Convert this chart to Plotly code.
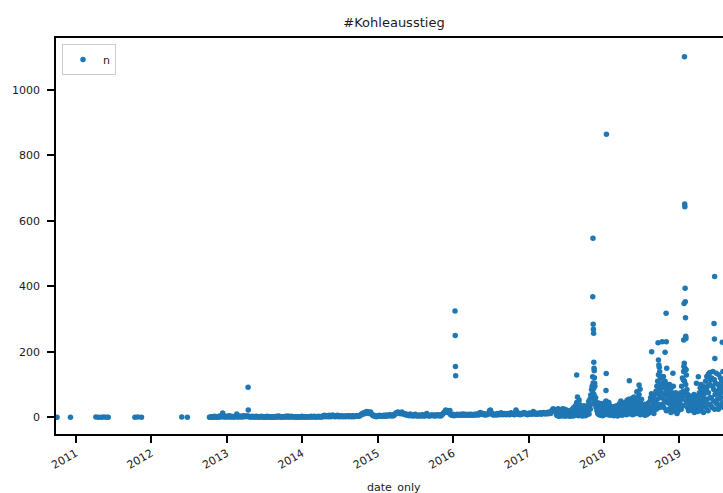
import pandas as pd
import plotly.graph_objects as go

# Sparse early days (before regular activity on the hashtag)
early_dates = ["2010-10-02", "2010-12-06", "2011-04-08", "2011-04-21", "2011-05-05",
               "2011-05-17", "2011-05-30", "2011-06-07", "2011-10-14", "2011-10-28",
               "2011-11-15", "2012-05-28", "2012-06-24"]
early_counts = [0, 0, 1, 0, 0, 1, 0, 0, 0, 1, 0, 1, 0]

# Daily tweet counts sampled every 4 days, from 2012-10-09
mid_start = "2012-10-09"
mid_counts = [
    0, 1, 0, 2, 1, 0, 3, 1, 2, 0, 1, 2, 4, 1, 2,
    3, 13, 2, 1, 4, 2, 1, 3, 2, 5, 1, 2, 3, 1, 2,
    2, 1, 3, 10, 2, 1, 4, 2, 3, 1, 2, 5, 3, 2, 4,
    3, 4, 2, 3, 1, 2, 1, 3, 2, 1, 2, 1, 3, 2, 1,
    1, 2, 1, 3, 1, 2, 0, 1, 2, 1, 3, 1, 2, 1, 0,
    1, 2, 1, 0, 2, 1, 3, 1, 2, 4, 1, 2, 1, 2, 1,
    2, 1, 3, 2, 1, 4, 1, 2, 1, 3, 2, 1, 2, 1, 2,
    1, 2, 1, 0, 1, 2, 1, 3, 1, 2, 1, 1, 2, 1, 2,
    1, 2, 1, 3, 2, 1, 2, 3, 1, 2, 1, 2, 3, 2, 1,
    2, 3, 1, 4, 6, 3, 2, 5, 3, 2, 6, 4, 2, 3, 7,
    3, 5, 2, 4, 3, 6, 2, 3, 5, 2, 4, 3, 2, 4, 3,
    2, 4, 3, 5, 2, 3, 4, 2, 5, 3, 2, 4, 3, 5, 4,
    3, 5, 4, 6, 9, 12, 10, 14, 11, 15, 18, 13, 17, 12, 14,
    16, 10, 8, 5, 6, 4, 3, 2, 4, 5, 3, 6, 4, 5, 3,
    4, 6, 5, 3, 7, 5, 4, 6, 8, 5, 7, 4, 6, 5, 9,
    10, 14, 12, 16, 13, 15, 11, 14, 16, 12, 9, 11, 8, 10, 7,
    6, 8, 5, 10, 7, 5, 6, 4, 7, 9, 5, 6, 4, 5, 7,
    5, 4, 6, 8, 5, 4, 7, 5, 12, 6, 5, 4, 6, 5, 7,
    6, 5, 7, 4, 6, 5, 8, 6, 5, 7, 4, 6, 9, 12, 15,
    18, 22, 16, 20, 14, 19, 21, 8, 7, 6, 9, 5, 7, 8, 6,
    9, 7, 8, 6, 9, 7, 8, 10, 6, 7, 9, 8, 6, 7, 9,
    8, 6, 9, 7, 8, 6, 9, 7, 10, 8, 9, 7, 13, 15, 11,
    9, 12, 8, 10, 7, 9, 8, 10, 12, 20, 22, 16, 9, 8, 7,
    9, 8, 10, 7, 12, 9, 8, 11, 14, 10, 8, 9, 12, 10, 8,
    10, 12, 9, 8, 11, 14, 10, 9, 12, 8, 10, 22, 18, 11, 9,
    10, 8, 12, 9, 11, 14, 15, 12, 10, 9, 8, 11, 13, 10, 12,
    9, 12, 18, 11, 10, 13, 9, 12, 10, 11, 14, 12, 9, 13, 15,
    12, 14, 10, 15, 13, 11, 16, 14, 12, 18, 22, 26, 20, 24, 18,
]

# Daily tweet counts sampled every 2 days, from 2017-05-16
late_start = "2017-05-16"
late_counts = [
    8, 22, 5, 14, 26, 10, 3, 18, 24, 7, 12, 20, 4, 16, 25,
    10, 26, 6, 15, 21, 3, 12, 24, 8, 18, 5, 14, 20, 7, 11,
    4, 15, 9, 20, 3, 12, 18, 6, 25, 10, 14, 4, 30, 8, 16,
    12, 35, 6, 22, 45, 10, 62, 18, 28, 5, 53, 15, 38, 8, 24,
    6, 20, 32, 4, 15, 25, 9, 35, 12, 18, 5, 28, 14, 22, 8,
    15, 35, 20, 48, 10, 32, 55, 25, 68, 40, 85, 60, 95, 75, 105,
    88, 70, 52, 95, 40, 60, 30, 45, 20, 38, 12, 28, 44, 8, 22,
    15, 35, 6, 25, 42, 10, 30, 5, 20, 38, 12, 26, 8, 45, 18,
    50, 28, 40, 12, 32, 8, 25, 45, 15, 35, 6, 22, 30, 10, 18,
    8, 25, 14, 32, 5, 20, 10, 28, 6, 18, 35, 12, 22, 4, 15,
    10, 30, 18, 42, 8, 25, 50, 15, 35, 6, 22, 40, 12, 28, 16,
    20, 45, 12, 35, 8, 28, 52, 16, 38, 10, 55, 25, 42, 14, 30,
    12, 40, 25, 58, 8, 32, 48, 18, 62, 10, 35, 22, 50, 15, 28,
    45, 20, 60, 12, 38, 70, 25, 52, 8, 42, 30, 55, 15, 36, 22,
    10, 32, 18, 40, 6, 25, 15, 35, 8, 28, 20, 42, 12, 30, 16,
    22, 48, 15, 60, 30, 72, 18, 45, 65, 25, 55, 12, 70, 38, 50,
    35, 80, 25, 95, 55, 110, 40, 130, 70, 100, 30, 85, 120, 60, 90,
    75, 40, 105, 60, 125, 30, 90, 50, 110, 70, 95, 20, 80, 45, 100,
    55, 85, 25, 70, 100, 40, 65, 15, 90, 50, 75, 30, 60, 95, 45,
    30, 60, 18, 45, 75, 25, 55, 12, 40, 68, 20, 50, 35, 62, 28,
    40, 75, 25, 95, 55, 120, 35, 80, 140, 65, 110, 150, 70, 100, 50,
    45, 85, 30, 70, 60, 20, 55, 40, 65, 25, 50, 35, 28, 60, 22,
    20, 55, 35, 70, 15, 45, 60, 25, 50, 30, 65, 18, 40, 58, 22,
    35, 75, 20, 90, 50, 100, 28, 65, 85, 40, 95, 15, 70, 55, 80,
    45, 110, 30, 85, 125, 55, 95, 20, 75, 130, 40, 100, 60, 115, 35,
    60, 120, 30, 95, 140, 50, 85, 115, 25, 70, 105, 45, 135, 80, 40,
    55, 100, 25, 130, 70, 90, 35, 120, 60, 85, 110, 45, 75, 140, 30,
]

# Individual high-activity days
spike_dates = [
    "2013-04-14", "2013-04-15",
    "2016-01-11", "2016-01-12", "2016-01-13", "2016-01-14",
    "2017-08-22",
    "2017-11-06", "2017-11-07", "2017-11-08", "2017-11-09", "2017-11-10",
    "2017-11-11", "2017-11-12", "2017-11-13", "2017-11-14", "2017-11-15",
    "2017-11-16", "2017-11-17",
    "2018-01-11", "2018-01-12", "2018-01-13",
    "2018-05-04", "2018-06-09", "2018-06-20", "2018-06-25", "2018-08-20",
    "2018-09-20", "2018-09-22", "2018-09-24", "2018-09-26", "2018-09-28", "2018-09-30",
    "2018-10-08", "2018-10-10", "2018-10-24", "2018-10-29", "2018-10-30", "2018-11-01",
    "2018-12-01",
    "2019-01-24", "2019-01-25", "2019-01-26", "2019-01-27", "2019-01-28",
    "2019-01-29", "2019-01-30", "2019-01-31", "2019-02-01", "2019-02-02",
    "2019-01-22", "2019-01-23", "2019-02-03", "2019-02-04", "2019-01-21",
    "2019-03-25", "2019-04-03", "2019-05-20", "2019-05-22", "2019-05-29",
    "2019-06-18", "2019-06-19", "2019-06-20", "2019-06-21", "2019-06-22",
    "2019-07-27", "2019-07-28",
]
spike_counts = [
    92, 22,
    325, 250, 155, 127,
    129,
    96, 124, 368, 547, 284, 269, 257, 168, 150, 142, 121,
    104, 82,
    134, 865, 112,
    78, 99, 86, 200, 228,
    175, 160, 153, 139, 125, 120,
    231, 199, 318, 231, 150, 135,
    348,
    165, 1102, 652, 643, 394,
    353, 304, 248, 241, 236,
    155, 145, 129, 114, 104,
    124, 127, 132, 137, 287,
    114, 239, 430, 180, 96,
    229, 160,
]

dates = (
    list(pd.to_datetime(early_dates))
    + list(pd.date_range(mid_start, periods=len(mid_counts), freq="4D"))
    + list(pd.date_range(late_start, periods=len(late_counts), freq="2D"))
    + list(pd.to_datetime(spike_dates))
)
counts = early_counts + mid_counts + late_counts + spike_counts

FONT = "DejaVu Sans"
INK = "#1a1a1a"

fig = go.Figure(
    go.Scatter(
        x=dates,
        y=counts,
        mode="markers",
        name="n",
        marker=dict(color="#1f77b4", size=5.5, line=dict(width=0)),
    )
)

W, H = 723, 493
L, R, T, B = 56, 0, 38, 59

fig.update_layout(
    width=W,
    height=H,
    margin=dict(l=L, r=R, t=T, b=B, pad=0),
    paper_bgcolor="white",
    plot_bgcolor="white",
    font=dict(family=FONT, size=11, color=INK),
    title=dict(
        text="#Kohleausstieg",
        font=dict(family=FONT, size=13, color=INK),
        x=394 / W, xref="container", xanchor="center",
        y=1 - 22 / H, yref="container", yanchor="middle",
    ),
    showlegend=True,
    legend=dict(
        x=0.009, y=0.985, xanchor="left", yanchor="top",
        bordercolor="#cccccc", borderwidth=1, bgcolor="white",
        font=dict(family=FONT, size=11, color=INK),
        tracegroupgap=0,
    ),
    xaxis=dict(
        type="date",
        range=["2010-09-27", "2019-07-31 12:00"],
        tick0="2011-01-01", dtick="M12", tickformat="%Y",
        tickangle=-30,
        showline=True, linecolor="black", linewidth=1.6, mirror=True,
        ticks="outside", ticklen=7, tickwidth=1.6, tickcolor="black",
        showgrid=False, zeroline=False,
        tickfont=dict(family=FONT, size=11, color=INK),
    ),
    yaxis=dict(
        range=[-51, 1159],
        tickvals=[0, 200, 400, 600, 800, 1000],
        showline=True, linecolor="black", linewidth=1.6,
        ticks="outside", ticklen=7, tickwidth=1.6, tickcolor="black",
        ticklabelstandoff=5,
        showgrid=False, zeroline=False,
        tickfont=dict(family=FONT, size=11, color=INK),
    ),
    annotations=[
        dict(
            text="date_only",
            xref="paper", yref="paper",
            x=(394 - L) / (W - L - R), y=-(488 - (H - B)) / (H - T - B),
            xanchor="center", yanchor="middle", showarrow=False,
            font=dict(family=FONT, size=11, color=INK),
        )
    ],
)

fig.write_html("out.html")
